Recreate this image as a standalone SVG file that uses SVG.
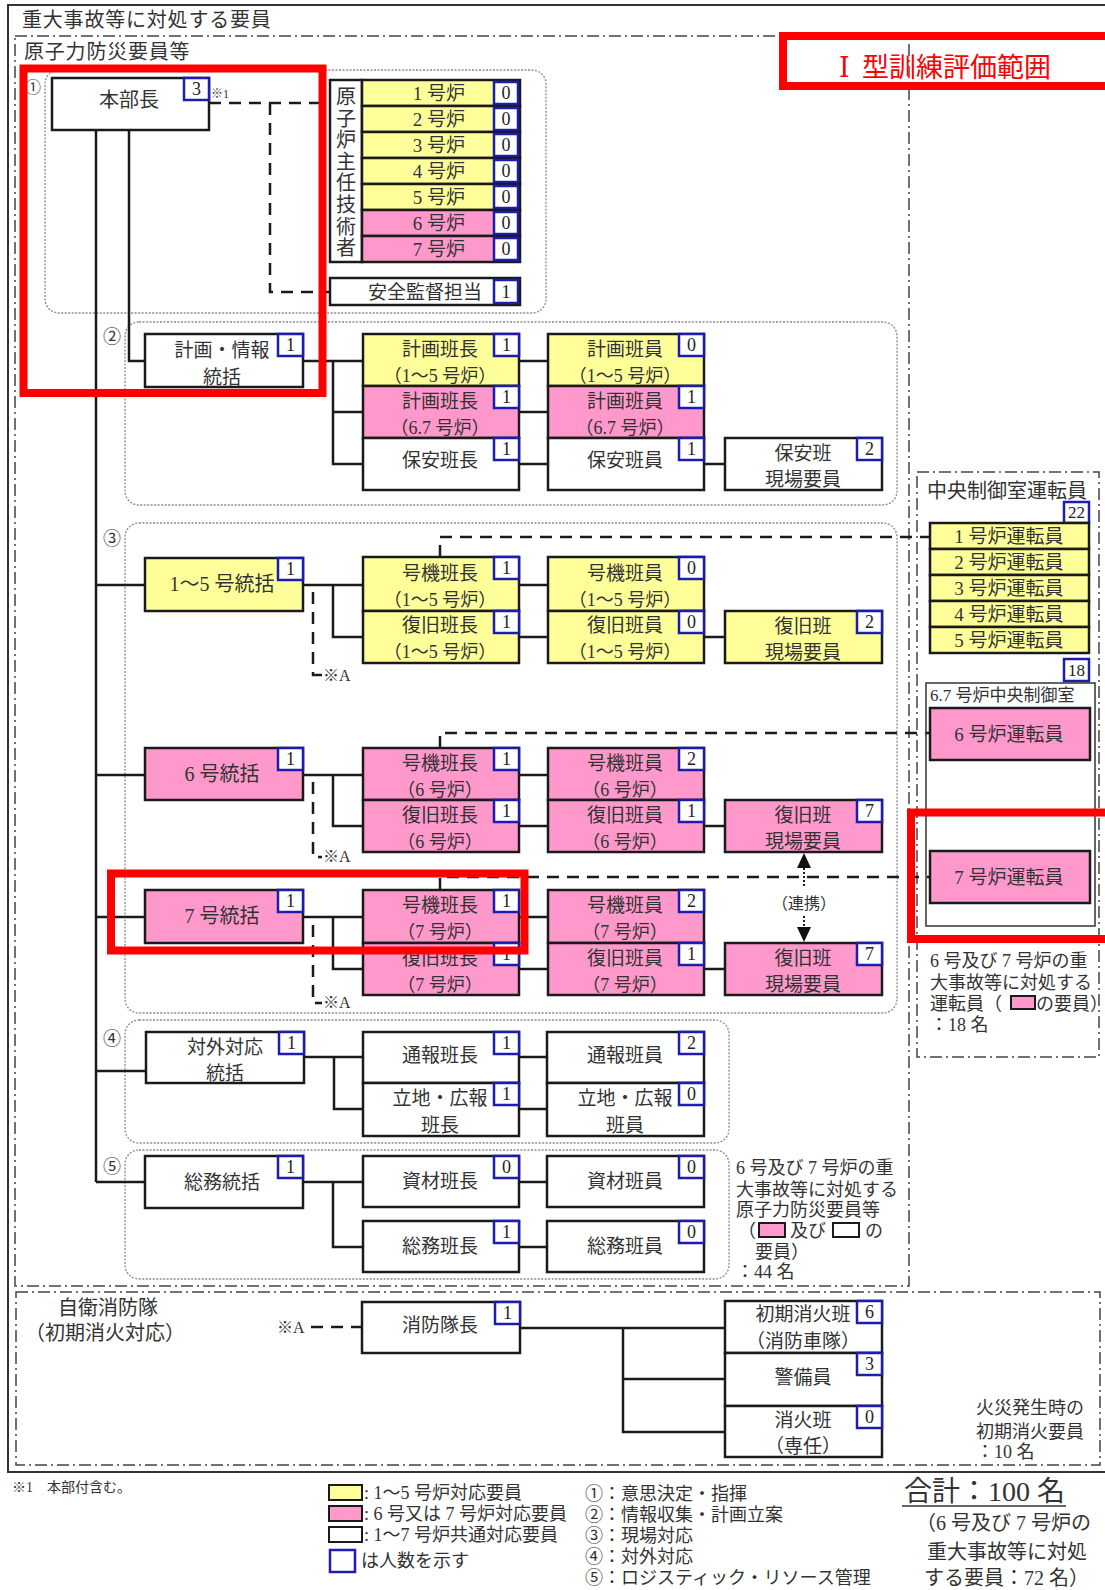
<svg xmlns="http://www.w3.org/2000/svg" width="1105" height="1590" viewBox="0 0 1105 1590">
<style>
.t{font-family:"Liberation Serif","Noto Sans CJK JP",serif;font-size:19px;fill:#333;text-anchor:middle}
.s{text-anchor:start}
.sm{font-size:18px}
.n{font-size:18px}
.f20{font-size:20px}
.f16{font-size:16px}
.bx{stroke:#1a1a1a;stroke-width:2.5}
.w{fill:#fff}.y{fill:#ffff99}.p{fill:#ff99cc}
.bd{fill:#fff;stroke:#1c1cb0;stroke-width:2.5}
.bt{font-family:"Liberation Serif",serif;font-size:18px;fill:#222;text-anchor:middle}
.ln{stroke:#1a1a1a;stroke-width:2.5;fill:none}
.dl{stroke:#1a1a1a;stroke-width:2.5;fill:none;stroke-dasharray:12 8}
.gp{fill:none;stroke:#8a8a8a;stroke-width:1.3;stroke-dasharray:2 1.5}
.dd{fill:none;stroke:#444;stroke-width:1.5;stroke-dasharray:12 4 2 4}
.red{fill:none;stroke:#ff0000;stroke-width:8}
</style>
<rect x="0" y="0" width="1105" height="1590" fill="#fff"/>

<!-- frames -->
<g id="frames">
<rect x="8" y="5" width="1110" height="1467" fill="none" stroke="#333" stroke-width="2"/>
<text class="t s f20" x="22" y="27" letter-spacing="0.8">重大事故等に対処する要員</text>
<rect class="dd" x="15" y="36" width="894" height="1250"/>
<text class="t s f20" x="24" y="59" letter-spacing="0.8">原子力防災要員等</text>
<rect class="dd" x="917" y="472" width="182" height="585"/>
<rect class="dd" x="16" y="1292" width="1084" height="173"/>
<rect class="gp" x="45" y="70" width="501" height="243" rx="14"/>
<rect class="gp" x="125" y="322" width="772" height="183" rx="14"/>
<rect class="gp" x="125" y="523" width="772" height="490" rx="14"/>
<rect class="gp" x="125" y="1020" width="604" height="123" rx="14"/>
<rect class="gp" x="125" y="1150" width="604" height="129" rx="14"/>
<text class="t f16" x="33" y="93">①</text>
<text class="t sm" x="112" y="343">②</text>
<text class="t sm" x="112" y="545">③</text>
<text class="t sm" x="112" y="1045">④</text>
<text class="t sm" x="112" y="1173">⑤</text>
</g>

<!-- connectors -->
<g id="connectors">
<path class="ln" d="M96,130 V1182 M129,130 V361 H145"/>
<path class="dl" d="M209,103 H330 M270,103 V292 H330"/>
<path class="ln" d="M303,361 H333 V464 H363 M333,361 H363 M333,412 H363 M519,361 H548 M519,412 H548 M519,464 H548 M704,464 H725"/>
<path class="ln" d="M96,585 H145 M303,585 H333 V637 H363 M333,585 H363 M519,585 H548 M519,637 H548 M704,637 H725"/>
<path class="ln" d="M96,775 H145 M303,775 H333 V826 H363 M333,775 H363 M519,775 H548 M519,826 H548 M704,826 H725"/>
<path class="ln" d="M96,917 H145 M303,917 H333 V969 H363 M333,917 H363 M519,917 H548 M519,969 H548 M704,969 H725"/>
<path class="ln" d="M96,1071 H146 M304,1057 H334 V1109 H363 M334,1057 H363 M519,1057 H547 M519,1109 H547"/>
<path class="ln" d="M96,1182 H145 M303,1182 H333 V1247 H363 M333,1182 H363 M519,1182 H547 M519,1247 H547"/>
<path class="dl" d="M313,592 V675 H322 M313,782 V857 H322 M313,925 V1003 H322"/>
<path class="dl" d="M440,557 V537 H930 M440,748 V733 H930 M440,890 V877 H930"/>
<path class="dl" d="M311,1327 H362"/>
<path class="ln" d="M520,1328 H623 V1432 H725 M623,1328 H725 M623,1379 H725"/>
<path d="M804,868 V888 M804,916 V927" stroke="#1a1a1a" stroke-width="2" stroke-dasharray="2 2"/>
<polygon points="804,853 797,868 811,868" fill="#111"/>
<polygon points="804,942 797,927 811,927" fill="#111"/>
<text class="t f16" x="804" y="909">（連携）</text>
<text class="t s f16" x="323" y="681">※A</text>
<text class="t s f16" x="323" y="862">※A</text>
<text class="t s f16" x="323" y="1008">※A</text>
<text class="t s f16" x="277" y="1333">※A</text>
</g>

<!-- group 1 -->
<g id="honbucho">
<rect class="bx w" x="52" y="78" width="157" height="52"/>
<text class="t f20" x="129" y="107">本部長</text>
<rect class="bd" x="184" y="78" width="25" height="22"/><text class="bt" x="196.5" y="95">3</text>
<text class="t s" x="211" y="98" style="font-size:12px">※1</text>
</g>
<g id="genshiro-shunin">
<rect class="bx w" x="330" y="80" width="32" height="182"/>
<text class="t f20" x="346" y="104">原</text>
<text class="t f20" x="346" y="125.6">子</text>
<text class="t f20" x="346" y="147.2">炉</text>
<text class="t f20" x="346" y="168.8">主</text>
<text class="t f20" x="346" y="190.4">任</text>
<text class="t f20" x="346" y="212">技</text>
<text class="t f20" x="346" y="233.6">術</text>
<text class="t f20" x="346" y="255.2">者</text>
<rect class="bx y" x="362" y="80" width="158" height="26"/><text class="t" x="439" y="100">1 号炉</text><rect class="bd" x="494" y="82" width="24" height="22"/><text class="bt" x="506" y="99">0</text>
<rect class="bx y" x="362" y="106" width="158" height="26"/><text class="t" x="439" y="126">2 号炉</text><rect class="bd" x="494" y="108" width="24" height="22"/><text class="bt" x="506" y="125">0</text>
<rect class="bx y" x="362" y="132" width="158" height="26"/><text class="t" x="439" y="152">3 号炉</text><rect class="bd" x="494" y="134" width="24" height="22"/><text class="bt" x="506" y="151">0</text>
<rect class="bx y" x="362" y="158" width="158" height="26"/><text class="t" x="439" y="178">4 号炉</text><rect class="bd" x="494" y="160" width="24" height="22"/><text class="bt" x="506" y="177">0</text>
<rect class="bx y" x="362" y="184" width="158" height="26"/><text class="t" x="439" y="204">5 号炉</text><rect class="bd" x="494" y="186" width="24" height="22"/><text class="bt" x="506" y="203">0</text>
<rect class="bx p" x="362" y="210" width="158" height="26"/><text class="t" x="439" y="230">6 号炉</text><rect class="bd" x="494" y="212" width="24" height="22"/><text class="bt" x="506" y="229">0</text>
<rect class="bx p" x="362" y="236" width="158" height="26"/><text class="t" x="439" y="256">7 号炉</text><rect class="bd" x="494" y="238" width="24" height="22"/><text class="bt" x="506" y="255">0</text>
</g>
<g id="anzen-kantoku">
<rect class="bx w" x="330" y="278" width="190" height="27"/>
<text class="t" x="425" y="299">安全監督担当</text>
<rect class="bd" x="494" y="280" width="24" height="23"/><text class="bt" x="506" y="298">1</text>
</g>

<!-- group 2 -->
<g id="keikaku-tokatsu">
<rect class="bx w" x="145" y="334" width="158" height="53"/>
<text class="t" x="222" y="357">計画・情報</text><text class="t" x="222" y="384">統括</text>
<rect class="bd" x="278" y="334" width="25" height="22"/><text class="bt" x="290.5" y="351">1</text>
</g>
<g id="keikaku-hancho">
<rect class="bx y" x="363" y="334" width="156" height="52"/>
<text class="t" x="440" y="356">計画班長</text><text class="t sm" x="440" y="382">（1～5 号炉）</text>
<rect class="bd" x="494" y="334" width="25" height="22"/><text class="bt" x="506.5" y="351">1</text>
<rect class="bx p" x="363" y="386" width="156" height="52"/>
<text class="t" x="440" y="408">計画班長</text><text class="t sm" x="440" y="434">（6.7 号炉）</text>
<rect class="bd" x="494" y="386" width="25" height="22"/><text class="bt" x="506.5" y="403">1</text>
<rect class="bx w" x="363" y="438" width="156" height="52"/>
<text class="t" x="440" y="467">保安班長</text>
<rect class="bd" x="494" y="438" width="25" height="22"/><text class="bt" x="506.5" y="455">1</text>
</g>
<g id="keikaku-hanin">
<rect class="bx y" x="548" y="334" width="156" height="52"/>
<text class="t" x="625" y="356">計画班員</text><text class="t sm" x="625" y="382">（1～5 号炉）</text>
<rect class="bd" x="679" y="334" width="25" height="22"/><text class="bt" x="691.5" y="351">0</text>
<rect class="bx p" x="548" y="386" width="156" height="52"/>
<text class="t" x="625" y="408">計画班員</text><text class="t sm" x="625" y="434">（6.7 号炉）</text>
<rect class="bd" x="679" y="386" width="25" height="22"/><text class="bt" x="691.5" y="403">1</text>
<rect class="bx w" x="548" y="438" width="156" height="52"/>
<text class="t" x="625" y="467">保安班員</text>
<rect class="bd" x="679" y="438" width="25" height="22"/><text class="bt" x="691.5" y="455">1</text>
</g>
<g id="hoan-genba">
<rect class="bx w" x="725" y="438" width="157" height="52"/>
<text class="t" x="803" y="460">保安班</text><text class="t" x="803" y="486">現場要員</text>
<rect class="bd" x="857" y="438" width="25" height="22"/><text class="bt" x="869.5" y="455">2</text>
</g>

<!-- group 3 : 1-5 -->
<g id="tokatsu-1-5">
<rect class="bx y" x="145" y="558" width="158" height="53"/>
<text class="t f20" x="222" y="591">1～5 号統括</text>
<rect class="bd" x="278" y="558" width="25" height="22"/><text class="bt" x="290.5" y="575">1</text>
</g>
<g id="hancho-1-5">
<rect class="bx y" x="363" y="557" width="156" height="54"/>
<text class="t" x="440" y="580">号機班長</text><text class="t sm" x="440" y="606">（1～5 号炉）</text>
<rect class="bd" x="494" y="557" width="25" height="22"/><text class="bt" x="506.5" y="574">1</text>
<rect class="bx y" x="363" y="611" width="156" height="52"/>
<text class="t" x="440" y="632">復旧班長</text><text class="t sm" x="440" y="658">（1～5 号炉）</text>
<rect class="bd" x="494" y="611" width="25" height="22"/><text class="bt" x="506.5" y="628">1</text>
</g>
<g id="hanin-1-5">
<rect class="bx y" x="548" y="557" width="156" height="54"/>
<text class="t" x="625" y="580">号機班員</text><text class="t sm" x="625" y="606">（1～5 号炉）</text>
<rect class="bd" x="679" y="557" width="25" height="22"/><text class="bt" x="691.5" y="574">0</text>
<rect class="bx y" x="548" y="611" width="156" height="52"/>
<text class="t" x="625" y="632">復旧班員</text><text class="t sm" x="625" y="658">（1～5 号炉）</text>
<rect class="bd" x="679" y="611" width="25" height="22"/><text class="bt" x="691.5" y="628">0</text>
</g>
<g id="genba-1-5">
<rect class="bx y" x="725" y="611" width="157" height="52"/>
<text class="t" x="803" y="633">復旧班</text><text class="t" x="803" y="659">現場要員</text>
<rect class="bd" x="857" y="611" width="25" height="22"/><text class="bt" x="869.5" y="628">2</text>
</g>

<!-- group 3 : unit 6 -->
<g id="tokatsu-6">
<rect class="bx p" x="145" y="748" width="158" height="52"/>
<text class="t f20" x="222" y="781">6 号統括</text>
<rect class="bd" x="278" y="748" width="25" height="22"/><text class="bt" x="290.5" y="765">1</text>
</g>
<g id="hancho-6">
<rect class="bx p" x="363" y="748" width="156" height="52"/>
<text class="t" x="440" y="770">号機班長</text><text class="t sm" x="440" y="796">（6 号炉）</text>
<rect class="bd" x="494" y="748" width="25" height="22"/><text class="bt" x="506.5" y="765">1</text>
<rect class="bx p" x="363" y="800" width="156" height="52"/>
<text class="t" x="440" y="822">復旧班長</text><text class="t sm" x="440" y="848">（6 号炉）</text>
<rect class="bd" x="494" y="800" width="25" height="22"/><text class="bt" x="506.5" y="817">1</text>
</g>
<g id="hanin-6">
<rect class="bx p" x="548" y="748" width="156" height="52"/>
<text class="t" x="625" y="770">号機班員</text><text class="t sm" x="625" y="796">（6 号炉）</text>
<rect class="bd" x="679" y="748" width="25" height="22"/><text class="bt" x="691.5" y="765">2</text>
<rect class="bx p" x="548" y="800" width="156" height="52"/>
<text class="t" x="625" y="822">復旧班員</text><text class="t sm" x="625" y="848">（6 号炉）</text>
<rect class="bd" x="679" y="800" width="25" height="22"/><text class="bt" x="691.5" y="817">1</text>
</g>
<g id="genba-6">
<rect class="bx p" x="725" y="800" width="157" height="52"/>
<text class="t" x="803" y="822">復旧班</text><text class="t" x="803" y="848">現場要員</text>
<rect class="bd" x="857" y="800" width="25" height="22"/><text class="bt" x="869.5" y="817">7</text>
</g>

<!-- group 3 : unit 7 -->
<g id="tokatsu-7">
<rect class="bx p" x="145" y="890" width="158" height="53"/>
<text class="t f20" x="222" y="923">7 号統括</text>
<rect class="bd" x="278" y="890" width="25" height="22"/><text class="bt" x="290.5" y="907">1</text>
</g>
<g id="hancho-7">
<rect class="bx p" x="363" y="890" width="156" height="53"/>
<text class="t" x="440" y="912">号機班長</text><text class="t sm" x="440" y="938">（7 号炉）</text>
<rect class="bd" x="494" y="890" width="25" height="22"/><text class="bt" x="506.5" y="907">1</text>
<rect class="bx p" x="363" y="943" width="156" height="52"/>
<text class="t" x="440" y="965">復旧班長</text><text class="t sm" x="440" y="991">（7 号炉）</text>
<rect class="bd" x="494" y="943" width="25" height="22"/><text class="bt" x="506.5" y="960">1</text>
</g>
<g id="hanin-7">
<rect class="bx p" x="548" y="890" width="156" height="53"/>
<text class="t" x="625" y="912">号機班員</text><text class="t sm" x="625" y="938">（7 号炉）</text>
<rect class="bd" x="679" y="890" width="25" height="22"/><text class="bt" x="691.5" y="907">2</text>
<rect class="bx p" x="548" y="943" width="156" height="52"/>
<text class="t" x="625" y="965">復旧班員</text><text class="t sm" x="625" y="991">（7 号炉）</text>
<rect class="bd" x="679" y="943" width="25" height="22"/><text class="bt" x="691.5" y="960">1</text>
</g>
<g id="genba-7">
<rect class="bx p" x="725" y="943" width="157" height="52"/>
<text class="t" x="803" y="965">復旧班</text><text class="t" x="803" y="991">現場要員</text>
<rect class="bd" x="857" y="943" width="25" height="22"/><text class="bt" x="869.5" y="960">7</text>
</g>

<!-- group 4 -->
<g id="taigai-tokatsu">
<rect class="bx w" x="146" y="1032" width="158" height="51"/>
<text class="t" x="225" y="1054">対外対応</text><text class="t" x="225" y="1080">統括</text>
<rect class="bd" x="279" y="1032" width="25" height="22"/><text class="bt" x="291.5" y="1049">1</text>
</g>
<g id="tsuho-hancho">
<rect class="bx w" x="363" y="1032" width="156" height="51"/>
<text class="t" x="440" y="1062">通報班長</text>
<rect class="bd" x="494" y="1032" width="25" height="22"/><text class="bt" x="506.5" y="1049">1</text>
<rect class="bx w" x="363" y="1083" width="156" height="53"/>
<text class="t" x="440" y="1105">立地・広報</text><text class="t" x="440" y="1132">班長</text>
<rect class="bd" x="494" y="1083" width="25" height="22"/><text class="bt" x="506.5" y="1100">1</text>
</g>
<g id="tsuho-hanin">
<rect class="bx w" x="547" y="1032" width="157" height="51"/>
<text class="t" x="625" y="1062">通報班員</text>
<rect class="bd" x="679" y="1032" width="25" height="22"/><text class="bt" x="691.5" y="1049">2</text>
<rect class="bx w" x="547" y="1083" width="157" height="53"/>
<text class="t" x="625" y="1105">立地・広報</text><text class="t" x="625" y="1132">班員</text>
<rect class="bd" x="679" y="1083" width="25" height="22"/><text class="bt" x="691.5" y="1100">0</text>
</g>

<!-- group 5 -->
<g id="somu-tokatsu">
<rect class="bx w" x="145" y="1156" width="158" height="52"/>
<text class="t" x="222" y="1189">総務統括</text>
<rect class="bd" x="278" y="1156" width="25" height="22"/><text class="bt" x="290.5" y="1173">1</text>
</g>
<g id="shizai-hancho">
<rect class="bx w" x="363" y="1156" width="156" height="51"/>
<text class="t" x="440" y="1188">資材班長</text>
<rect class="bd" x="494" y="1156" width="25" height="22"/><text class="bt" x="506.5" y="1173">0</text>
</g>
<g id="somu-hancho">
<rect class="bx w" x="363" y="1221" width="156" height="51"/>
<text class="t" x="440" y="1253">総務班長</text>
<rect class="bd" x="494" y="1221" width="25" height="22"/><text class="bt" x="506.5" y="1238">1</text>
</g>
<g id="shizai-hanin">
<rect class="bx w" x="547" y="1156" width="157" height="51"/>
<text class="t" x="625" y="1188">資材班員</text>
<rect class="bd" x="679" y="1156" width="25" height="22"/><text class="bt" x="691.5" y="1173">0</text>
</g>
<g id="somu-hanin">
<rect class="bx w" x="547" y="1221" width="157" height="51"/>
<text class="t" x="625" y="1253">総務班員</text>
<rect class="bd" x="679" y="1221" width="25" height="22"/><text class="bt" x="691.5" y="1238">0</text>
</g>
<g id="note-44">
<text class="t s n" x="736" y="1174">6 号及び 7 号炉の重</text>
<text class="t s n" x="736" y="1196">大事故等に対処する</text>
<text class="t s n" x="736" y="1216">原子力防災要員等</text>
<text class="t s n" x="738" y="1237">（</text>
<rect x="759" y="1223" width="26" height="14" fill="#ff99cc" stroke="#1a1a1a" stroke-width="2"/>
<text class="t s n" x="790" y="1237">及び</text>
<rect x="833" y="1223" width="26" height="14" fill="#fff" stroke="#1a1a1a" stroke-width="2"/>
<text class="t s n" x="865" y="1237">の</text>
<text class="t s n" x="755" y="1258">要員）</text>
<text class="t s n" x="736" y="1278">：44 名</text>
</g>

<!-- central control room operators -->
<g id="chuo-seigyo">
<text class="t s f20" x="927" y="498">中央制御室運転員</text>
<rect class="bd" x="1064" y="502" width="25" height="21"/><text class="bt" x="1076.5" y="518" style="font-size:17px">22</text>
<rect class="bx y" x="930" y="523" width="159" height="26"/><text class="t" x="1009" y="543">1 号炉運転員</text>
<rect class="bx y" x="930" y="549" width="159" height="26"/><text class="t" x="1009" y="569">2 号炉運転員</text>
<rect class="bx y" x="930" y="575" width="159" height="26"/><text class="t" x="1009" y="595">3 号炉運転員</text>
<rect class="bx y" x="930" y="601" width="159" height="26"/><text class="t" x="1009" y="621">4 号炉運転員</text>
<rect class="bx y" x="930" y="627" width="159" height="26"/><text class="t" x="1009" y="647">5 号炉運転員</text>
<rect class="bd" x="1064" y="659" width="25" height="22"/><text class="bt" x="1076.5" y="676" style="font-size:17px">18</text>
</g>
<g id="chuo-seigyo-67">
<rect x="926" y="683" width="169" height="243" fill="none" stroke="#333" stroke-width="1.5"/>
<text class="t s" x="930" y="701" style="font-size:17px">6.7 号炉中央制御室</text>
<rect class="bx p" x="930" y="708" width="160" height="52"/><text class="t" x="1009" y="741">6 号炉運転員</text>
<rect class="bx p" x="930" y="851" width="160" height="52"/><text class="t" x="1009" y="884">7 号炉運転員</text>
</g>
<g id="note-18">
<text class="t s n" x="930" y="967">6 号及び 7 号炉の重</text>
<text class="t s n" x="930" y="989">大事故等に対処する</text>
<text class="t s n" x="930" y="1010">運転員（</text>
<rect x="1011" y="996" width="24" height="13" fill="#ff99cc" stroke="#1a1a1a" stroke-width="2"/>
<text class="t s n" x="1036" y="1010">の要員）</text>
<text class="t s n" x="930" y="1031">：18 名</text>
</g>

<!-- self fire brigade -->
<g id="jiei-shobo">
<text class="t f20" x="108" y="1315">自衛消防隊</text>
<text class="t f20" x="105" y="1340">（初期消火対応）</text>
</g>
<g id="shobo-taicho">
<rect class="bx w" x="362" y="1302" width="158" height="51"/>
<text class="t" x="440" y="1332">消防隊長</text>
<rect class="bd" x="495" y="1302" width="25" height="22"/><text class="bt" x="507.5" y="1319">1</text>
</g>
<g id="shobo-stack">
<rect class="bx w" x="725" y="1301" width="157" height="52"/>
<text class="t" x="803" y="1321">初期消火班</text><text class="t" x="803" y="1348">（消防車隊）</text>
<rect class="bd" x="857" y="1301" width="25" height="22"/><text class="bt" x="869.5" y="1318">6</text>
<rect class="bx w" x="725" y="1353" width="157" height="53"/>
<text class="t" x="803" y="1384">警備員</text>
<rect class="bd" x="857" y="1353" width="25" height="22"/><text class="bt" x="869.5" y="1370">3</text>
<rect class="bx w" x="725" y="1406" width="157" height="51"/>
<text class="t" x="803" y="1427">消火班</text><text class="t" x="803" y="1453">（専任）</text>
<rect class="bd" x="857" y="1406" width="25" height="22"/><text class="bt" x="869.5" y="1423">0</text>
</g>
<g id="note-10">
<text class="t s n" x="976" y="1414">火災発生時の</text>
<text class="t s n" x="976" y="1438">初期消火要員</text>
<text class="t s n" x="976" y="1458">：10 名</text>
</g>

<!-- legend -->
<g id="legend">
<text class="t s" x="12" y="1492" style="font-size:14px">※1　本部付含む。</text>
<rect x="329" y="1485" width="33" height="15" fill="#ffff99" stroke="#1a1a1a" stroke-width="2"/>
<text class="t s sm" x="364" y="1499">: 1～5 号炉対応要員</text>
<rect x="329" y="1506" width="33" height="15" fill="#ff99cc" stroke="#1a1a1a" stroke-width="2"/>
<text class="t s sm" x="364" y="1520">: 6 号又は 7 号炉対応要員</text>
<rect x="329" y="1527" width="33" height="15" fill="#fff" stroke="#1a1a1a" stroke-width="2"/>
<text class="t s sm" x="364" y="1541">: 1～7 号炉共通対応要員</text>
<rect x="330" y="1550" width="25" height="22" fill="#fff" stroke="#1c1cb0" stroke-width="2.5"/>
<text class="t s sm" x="361" y="1567">は人数を示す</text>
<text class="t s sm" x="585" y="1500">①：意思決定・指揮</text>
<text class="t s sm" x="585" y="1521">②：情報収集・計画立案</text>
<text class="t s sm" x="585" y="1542">③：現場対応</text>
<text class="t s sm" x="585" y="1563">④：対外対応</text>
<text class="t s sm" x="585" y="1584">⑤：ロジスティック・リソース管理</text>
<text class="t s" x="904" y="1501" style="font-size:28px">合計：100 名</text>
<line x1="902" y1="1506" x2="1066" y2="1506" stroke="#333" stroke-width="1.5"/>
<text class="t s f20" x="916" y="1530">（6 号及び 7 号炉の</text>
<text class="t s f20" x="927" y="1559">重大事故等に対処</text>
<text class="t s f20" x="924" y="1585">する要員：72 名）</text>
</g>

<!-- evaluation scope (red) -->
<g id="eval-scope">
<rect class="red" x="23.5" y="68.5" width="299" height="324.5"/>
<rect class="red" x="783" y="36" width="340" height="50"/>
<text x="839" y="77" style="font-family:'DejaVu Serif','Liberation Serif','Noto Sans CJK JP',serif;font-size:27px" fill="#ff0000">Ⅰ<tspan x="862" style="font-family:'Liberation Serif','Noto Sans CJK JP',serif">型訓練評価範囲</tspan></text>
<rect class="red" x="111" y="873.5" width="413.5" height="77"/>
<rect class="red" x="911" y="812.5" width="210" height="126.5"/>
</g>
</svg>
